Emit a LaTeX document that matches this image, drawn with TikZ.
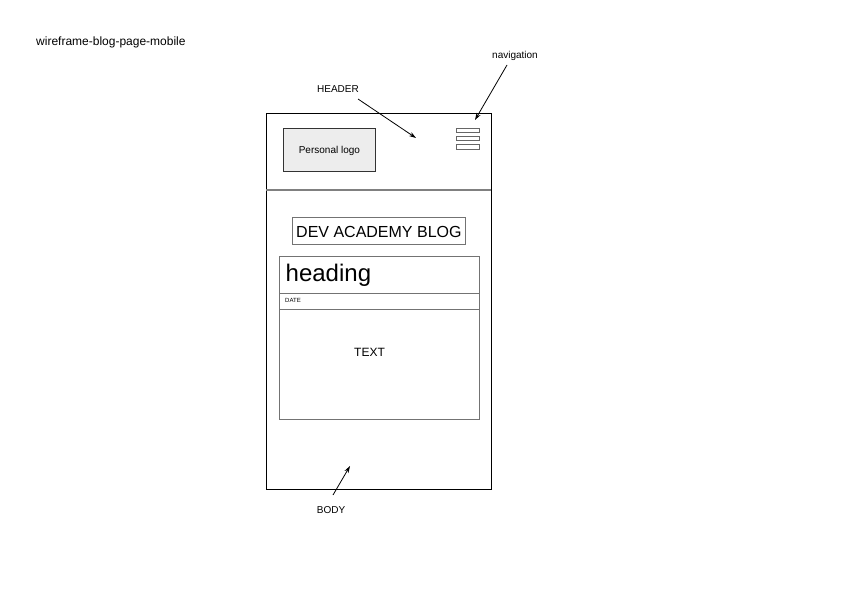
\documentclass[tikz,border=0pt]{standalone}
\usepackage{fontspec}
\setmainfont{Liberation Sans}
\usetikzlibrary{arrows.meta}
\begin{document}
\begin{tikzpicture}[x=1pt,y=-1pt,
  txt/.style={inner sep=0pt,yshift=-1.5pt},
  lbl/.style={txt,font=\fontsize{10}{12}\selectfont},
  frame/.style={draw=black,line width=1pt},
  inbox/.style={draw=black!55,line width=0.8pt},
  arr/.style={-{Stealth[length=7pt,width=4.5pt]},line width=0.8pt,shorten >=0pt}]
\useasboundingbox (0,0) rectangle (842,595);
% title
\node[txt,anchor=west,font=\fontsize{12}{14}\selectfont] (title) at (36,41) {wireframe-blog-page-mobile};
% phone frame
\node[frame,minimum width=225pt,minimum height=376pt,inner sep=0pt,anchor=north west] (phone) at (266,113) {};
\node[frame,minimum width=225pt,minimum height=77pt,inner sep=0pt,anchor=north west] (header) at (266,113) {};
\draw[draw=black!50,line width=1.4pt] (266,190) -- (491,190);
% logo
\node[draw=black!80,fill=black!7,line width=0.8pt,minimum width=92pt,minimum height=43pt,inner sep=0pt,anchor=north west] (logo) at (283,128) {};
\node[lbl] (logotxt) at (logo.center) {Personal logo};
% hamburger
\foreach \i/\y in {1/127.7,2/136,3/144.3}{
  \node[draw=black!60,line width=0.6pt,minimum width=23.5pt,minimum height=4.3pt,inner sep=0pt,anchor=north west] (nav\i) at (455.8,\y) {};
}
% blog title
\node[inbox,minimum width=173pt,minimum height=27pt,inner sep=0pt,anchor=north west] (blogbox) at (292,216.5) {};
\node[txt,font=\fontsize{16}{18}\selectfont] (blogtxt) at (blogbox.center) {DEV ACADEMY BLOG};
% post
\node[inbox,minimum width=200pt,minimum height=163.5pt,inner sep=0pt,anchor=north west] (post) at (279.3,255.7) {};
\node[inbox,minimum width=200pt,minimum height=37.6pt,inner sep=0pt,anchor=north west] (headbox) at (279.3,255.7) {};
\node[inbox,minimum width=200pt,minimum height=16pt,inner sep=0pt,anchor=north west] (datebox) at (279.3,293.3) {};
\node[txt,anchor=west,font=\fontsize{24}{28}\selectfont] (headtxt) at (285.5,274) {heading};
\node[txt,anchor=west,font=\fontsize{6}{7}\selectfont] (datetxt) at (285,299.3) {DATE};
\node[txt,font=\fontsize{12}{14}\selectfont] (texttxt) at (369.5,351) {TEXT};
% labels and arrows
\node[lbl] (hdrlbl) at (338,88) {HEADER};
\node[lbl] (navlbl) at (515,54) {navigation};
\node[lbl] (bodylbl) at (331,508.5) {BODY};
\coordinate (hdrS) at (358,99);
\coordinate (hdrE) at (416,138);
\coordinate (navS) at (507,65);
\coordinate (navE) at (475,120);
\coordinate (bodyS) at (333,495);
\coordinate (bodyE) at (350,466);
\draw[arr] (hdrS) -- (hdrE);
\draw[arr] (navS) -- (navE);
\draw[arr] (bodyS) -- (bodyE);
\end{tikzpicture}
\end{document}
